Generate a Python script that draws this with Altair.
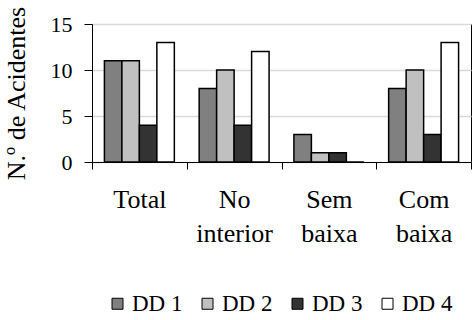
import altair as alt
import pandas as pd

categories = ["Total", "No interior", "Sem baixa", "Com baixa"]
series = ["DD 1", "DD 2", "DD 3", "DD 4"]
dd1 = [11, 8, 3, 8]
dd2 = [11, 10, 1, 10]
dd3 = [4, 4, 1, 3]
dd4 = [13, 12, 0, 13]
colors = ["#808080", "#c0c0c0", "#333333", "#ffffff"]

rows = []
for name, vals in zip(series, [dd1, dd2, dd3, dd4]):
    for cat, v in zip(categories, vals):
        rows.append({"categoria": cat, "serie": name, "valor": v})
df = pd.DataFrame(rows)

FONT = "Liberation Serif"

chart = (
    alt.Chart(df)
    .mark_bar(stroke="black", strokeWidth=1.5)
    .encode(
        x=alt.X(
            "categoria:N",
            sort=categories,
            scale=alt.Scale(paddingInner=0, paddingOuter=0),
            axis=alt.Axis(
                title=None,
                labelAngle=0,
                labelExpr="split(datum.label, ' ')",
                labelFontSize=26,
                labelLineHeight=34,
                labelColor="black",
                labelPadding=17,
                tickBand="extent",
                tickSize=7,
                tickColor="black",
                domainColor="black",
                grid=False,
            ),
        ),
        xOffset=alt.XOffset(
            "serie:N",
            sort=series,
            scale=alt.Scale(paddingInner=0, paddingOuter=0.71),
        ),
        y=alt.Y(
            "valor:Q",
            scale=alt.Scale(domain=[0, 15], nice=False),
            axis=alt.Axis(
                title="N.º de Acidentes",
                titleFontSize=26,
                titleFontWeight="normal",
                titleColor="black",
                titlePadding=21,
                values=[0, 5, 10, 15],
                labelFontSize=22,
                labelColor="black",
                labelPadding=12,
                tickSize=8,
                tickColor="black",
                domainColor="black",
                gridColor="#d9d9d9",
                gridWidth=1.5,
            ),
        ),
        fill=alt.Fill(
            "serie:N",
            sort=series,
            scale=alt.Scale(domain=series, range=colors),
            legend=alt.Legend(
                title=None,
                orient="none",
                legendX=14,
                legendY=268,
                direction="horizontal",
                columns=4,
                padding=0,
                symbolType="square",
                symbolSize=121,
                symbolStrokeColor="black",
                symbolStrokeWidth=1,
                symbolOpacity=1,
                labelFontSize=23,
                labelColor="black",
                labelOffset=3,
                columnPadding=13,
            ),
        ),
    )
    .properties(
        width=379,
        height=138,
        autosize=alt.AutoSizeParams(type="none"),
        padding={"left": 92, "top": 24, "right": 1, "bottom": 158},
    )
    .configure(background="white", font=FONT)
    .configure_axis(labelFont=FONT, titleFont=FONT)
    .configure_legend(labelFont=FONT)
    .configure_view(stroke="black", strokeWidth=1)
)

chart.save("out.html", embed_options={"renderer": "svg", "actions": False})
